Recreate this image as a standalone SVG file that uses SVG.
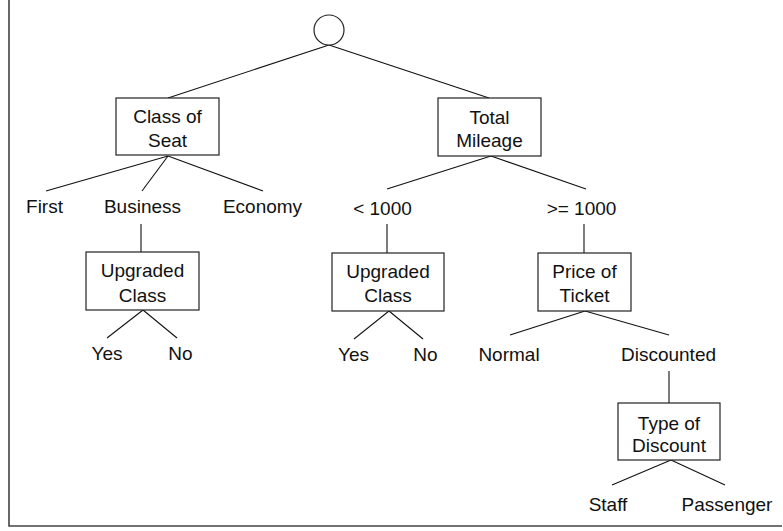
<svg xmlns="http://www.w3.org/2000/svg" width="783" height="531" viewBox="0 0 783 531">
<style>
.box{fill:#fff;stroke:#222;stroke-width:1.2}
.ln{stroke:#111;stroke-width:1.1;fill:none}
.fr{stroke:#444;stroke-width:1.6;fill:none}
text{font-family:"Liberation Sans",Arial,sans-serif;font-size:19px;fill:#111;text-anchor:middle}
</style>
<rect width="783" height="531" fill="#fff"/>
<path class="fr" d="M9,0 V526 H782"/>
<g id="connectors">
<line class="ln" x1="329" y1="45" x2="168" y2="98"/>
<line class="ln" x1="329" y1="45" x2="489" y2="98"/>
<line class="ln" x1="168" y1="156" x2="46" y2="191"/>
<line class="ln" x1="168" y1="156" x2="142" y2="191"/>
<line class="ln" x1="168" y1="156" x2="263" y2="191"/>
<line class="ln" x1="141" y1="224" x2="141" y2="252"/>
<line class="ln" x1="143" y1="310" x2="107" y2="338"/>
<line class="ln" x1="143" y1="310" x2="177" y2="338"/>
<line class="ln" x1="491" y1="156" x2="387" y2="189"/>
<line class="ln" x1="491" y1="156" x2="586" y2="189"/>
<line class="ln" x1="387" y1="224" x2="387" y2="253"/>
<line class="ln" x1="389" y1="311" x2="354" y2="339"/>
<line class="ln" x1="389" y1="311" x2="423" y2="339"/>
<line class="ln" x1="584" y1="224" x2="584" y2="253"/>
<line class="ln" x1="585" y1="311" x2="510" y2="335"/>
<line class="ln" x1="585" y1="311" x2="669" y2="335"/>
<line class="ln" x1="669" y1="371" x2="669" y2="403"/>
<line class="ln" x1="671" y1="460" x2="612" y2="485"/>
<line class="ln" x1="671" y1="460" x2="725" y2="485"/>
</g>
<g id="root"><circle cx="329" cy="30" r="15" class="box"/></g>
<g id="class-of-seat"><rect class="box" x="116" y="98" width="103" height="57"/><text x="167.5" y="123">Class of</text><text x="167.5" y="147">Seat</text></g>
<g id="first"><text x="44.5" y="213">First</text></g>
<g id="business"><text x="142.5" y="213">Business</text></g>
<g id="economy"><text x="262.5" y="213">Economy</text></g>
<g id="upgraded-class-1"><rect class="box" x="86" y="252" width="113" height="58"/><text x="142.5" y="277">Upgraded</text><text x="142.5" y="302">Class</text></g>
<g id="yes-1"><text x="107" y="360">Yes</text></g>
<g id="no-1"><text x="180.5" y="360">No</text></g>
<g id="total-mileage"><rect class="box" x="438" y="98" width="103" height="58"/><text x="489.5" y="124">Total</text><text x="489.5" y="147">Mileage</text></g>
<g id="lt-1000"><text x="382.5" y="215">&lt; 1000</text></g>
<g id="ge-1000"><text x="581.5" y="215">&gt;= 1000</text></g>
<g id="upgraded-class-2"><rect class="box" x="332" y="253" width="112" height="58"/><text x="388" y="278">Upgraded</text><text x="388" y="302">Class</text></g>
<g id="yes-2"><text x="353.5" y="361">Yes</text></g>
<g id="no-2"><text x="425.5" y="361">No</text></g>
<g id="price-of-ticket"><rect class="box" x="538" y="253" width="93" height="58"/><text x="584.5" y="278">Price of</text><text x="584.5" y="302">Ticket</text></g>
<g id="normal"><text x="509" y="361">Normal</text></g>
<g id="discounted"><text x="668.5" y="361">Discounted</text></g>
<g id="type-of-discount"><rect class="box" x="618" y="403" width="102" height="57"/><text x="669" y="430">Type of</text><text x="669" y="452">Discount</text></g>
<g id="staff"><text x="608" y="511">Staff</text></g>
<g id="passenger"><text x="727" y="511">Passenger</text></g>
</svg>
